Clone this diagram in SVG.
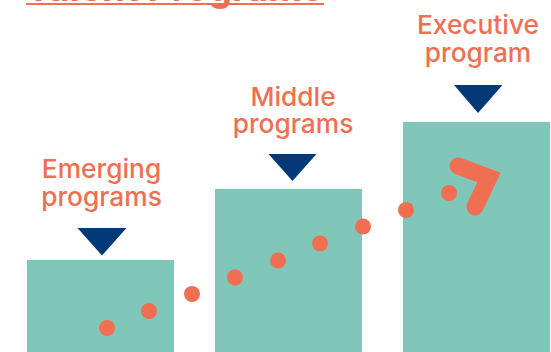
<svg xmlns="http://www.w3.org/2000/svg" width="551" height="352" viewBox="0 0 551 352">
<style>
text{font-family:"Inter","Noto Sans",sans-serif;fill:#f06f53;font-weight:500;font-size:26.300px;text-anchor:middle}
.box{fill:#81c7b9}
.tri{fill:#023976}
.dot{fill:#f06f53}
</style>
<rect width="551" height="352" fill="#fff"/>
<g id="title">
<text x="174.500" y="0.500" style="font-size:36px;font-weight:700" textLength="297" lengthAdjust="spacingAndGlyphs">Talent Programs</text>
<rect x="26" y="3" width="298" height="2" fill="#f06f53"/>
</g>
<g id="emerging">
<rect class="box" x="27" y="260" width="147" height="92"/>
<polygon class="tri" points="77.500,228 126.500,228 102,255.500"/>
<text x="101.500" y="178">Emerging</text>
<text x="101.500" y="205.500">programs</text>
</g>
<g id="middle">
<rect class="box" x="215" y="189" width="147" height="163"/>
<polygon class="tri" points="268.500,154 316.500,154 292.500,181"/>
<text x="293" y="105.500">Middle</text>
<text x="293" y="133">programs</text>
</g>
<g id="executive">
<rect class="box" x="403" y="122" width="147" height="230"/>
<polygon class="tri" points="454,85 502.500,85 478,113"/>
<text x="478" y="33.500">Executive</text>
<text x="478" y="61.500">program</text>
</g>
<g id="connectors">
<circle class="dot" cx="107" cy="328" r="8"/>
<circle class="dot" cx="149" cy="311" r="8"/>
<circle class="dot" cx="192" cy="294" r="8"/>
<circle class="dot" cx="235" cy="277.500" r="8"/>
<circle class="dot" cx="278" cy="260.500" r="8"/>
<circle class="dot" cx="320" cy="243.500" r="8"/>
<circle class="dot" cx="363" cy="226.500" r="8"/>
<circle class="dot" cx="406" cy="210" r="8"/>
<circle class="dot" cx="449" cy="193" r="8"/>
<path d="M458 166 L489 177.500 L475 207" fill="none" stroke="#f06f53" stroke-width="17" stroke-linecap="round" stroke-linejoin="miter"/>
</g>
</svg>
